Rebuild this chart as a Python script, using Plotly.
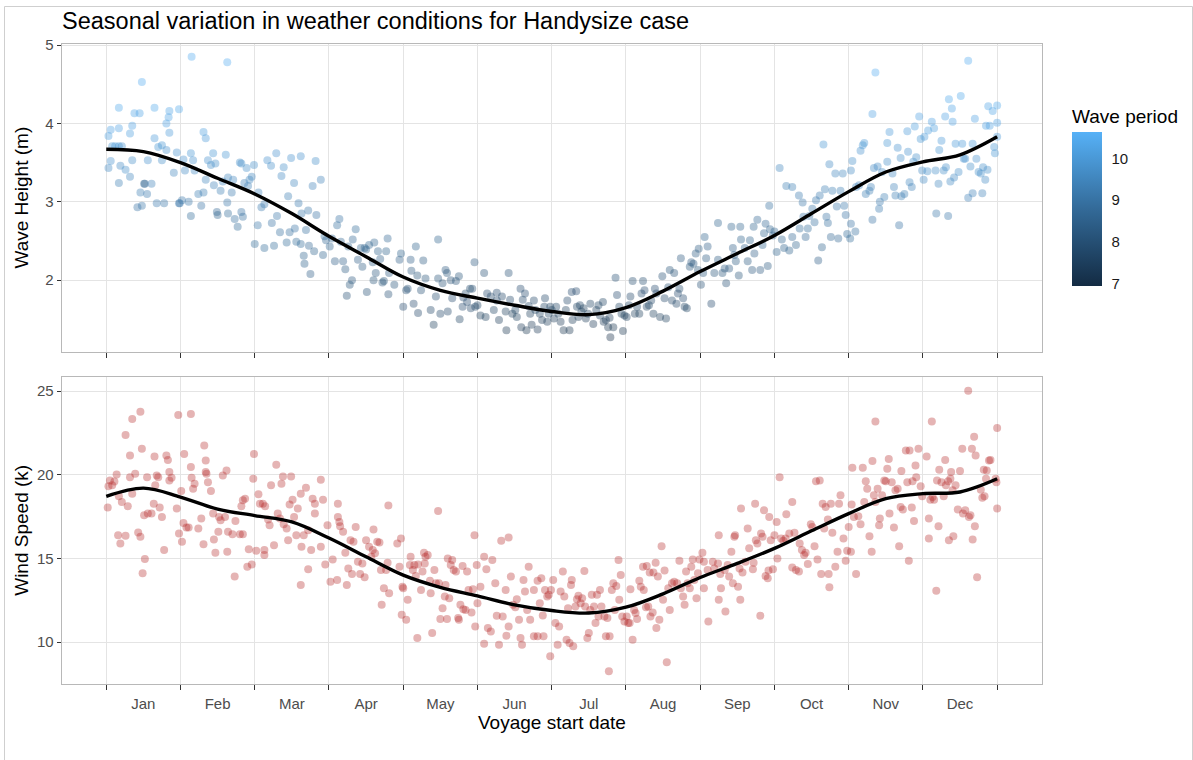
import plotly.graph_objects as go

# ---------------------------------------------------------------------------
# Data: voyage start position expressed in decimal months (0 = start of Jan,
# 12 = end of Dec), with the weather met on each voyage.
# ---------------------------------------------------------------------------
MONTHS = ["Jan", "Feb", "Mar", "Apr", "May", "Jun",
          "Jul", "Aug", "Sep", "Oct", "Nov", "Dec"]

wave_x = [
    # Jan
    0.03, 0.06, 0.17, 0.17, 0.03, 0.06, 0.08, 0.12, 0.17, 0.21, 0.17, 0.19, 0.26, 0.32, 0.32, 0.35, 0.35, 0.38, 0.45, 0.42,
    0.48, 0.48, 0.46, 0.51, 0.52, 0.55, 0.56, 0.61, 0.65, 0.65, 0.68, 0.70, 0.75, 0.75, 0.78, 0.81, 0.81, 0.84, 0.85, 0.85,
    0.91, 0.95, 0.98, 0.98,
    # Feb
    1.15, 1.63, 0.99, 1.02, 1.04, 1.06, 1.11, 1.14, 1.14, 1.17, 1.19, 1.24, 1.28, 1.31, 1.34, 1.31, 1.34, 1.37, 1.41, 1.44,
    1.45, 1.47, 1.49, 1.50, 1.54, 1.57, 1.61, 1.63, 1.64, 1.64, 1.69, 1.71, 1.73, 1.77, 1.80, 1.82, 1.82, 1.84, 1.86, 1.89,
    1.91, 1.93, 1.96, 1.99,
    # Mar
    2.00, 2.04, 2.05, 2.09, 2.13, 2.13, 2.17, 2.22, 2.23, 2.26, 2.29, 2.30, 2.34, 2.36, 2.39, 2.43, 2.45, 2.47, 2.49, 2.53,
    2.54, 2.56, 2.59, 2.62, 2.62, 2.63, 2.66, 2.67, 2.69, 2.72, 2.73, 2.75, 2.78, 2.80, 2.82, 2.83, 2.89, 2.92, 2.94, 2.96,
    # Apr
    3.01, 3.04, 3.08, 3.11, 3.14, 3.16, 3.19, 3.22, 3.24, 3.26, 3.28, 3.31, 3.32, 3.36, 3.39, 3.43, 3.45, 3.48, 3.50, 3.51,
    3.54, 3.59, 3.60, 3.61, 3.63, 3.66, 3.69, 3.72, 3.74, 3.77, 3.79, 3.80, 3.81, 3.88, 3.95, 3.97,
    # May
    4.00, 4.04, 4.06, 4.10, 4.11, 4.14, 4.17, 4.19, 4.20, 4.24, 4.27, 4.30, 4.37, 4.41, 4.44, 4.47, 4.47, 4.50, 4.53, 4.57,
    4.59, 4.60, 4.64, 4.66, 4.71, 4.75, 4.76, 4.80, 4.81, 4.84, 4.86, 4.90, 4.91, 4.93, 4.96, 4.97,
    # Jun
    5.00, 5.04, 5.09, 5.11, 5.13, 5.18, 5.22, 5.26, 5.26, 5.29, 5.33, 5.38, 5.39, 5.42, 5.44, 5.47, 5.51, 5.53, 5.58, 5.59,
    5.61, 5.64, 5.66, 5.69, 5.71, 5.73, 5.76, 5.78, 5.81, 5.84, 5.87, 5.90, 5.91, 5.94, 5.96, 5.98,
    # Jul
    6.00, 6.03, 6.06, 6.09, 6.12, 6.16, 6.19, 6.21, 6.24, 6.27, 6.28, 6.33, 6.34, 6.36, 6.38, 6.40, 6.43, 6.46, 6.49, 6.52,
    6.56, 6.60, 6.63, 6.65, 6.69, 6.70, 6.73, 6.76, 6.78, 6.79, 6.83, 6.86, 6.88, 6.91, 6.94, 6.96, 6.98,
    # Aug
    7.01, 7.04, 7.06, 7.09, 7.12, 7.15, 7.18, 7.21, 7.23, 7.25, 7.28, 7.31, 7.34, 7.37, 7.39, 7.41, 7.46, 7.49, 7.52, 7.54,
    7.57, 7.59, 7.62, 7.65, 7.68, 7.70, 7.72, 7.74, 7.77, 7.79, 7.82, 7.86, 7.88, 7.91, 7.94, 7.97, 7.98,
    # Sep
    8.01, 8.04, 8.06, 8.08, 8.10, 8.15, 8.19, 8.24, 8.24, 8.30, 8.33, 8.35, 8.39, 8.42, 8.44, 8.46, 8.48, 8.52, 8.54, 8.55,
    8.60, 8.64, 8.67, 8.70, 8.72, 8.73, 8.77, 8.81, 8.84, 8.86, 8.88, 8.91, 8.93, 8.94, 8.98, 9.00,
    # Oct
    9.03, 9.07, 9.10, 9.13, 9.16, 9.20, 9.24, 9.24, 9.29, 9.33, 9.34, 9.38, 9.39, 9.42, 9.45, 9.47, 9.51, 9.54, 9.56, 9.59,
    9.61, 9.64, 9.66, 9.68, 9.70, 9.72, 9.74, 9.76, 9.78, 9.82, 9.84, 9.86, 9.89, 9.92, 9.94, 9.96, 9.98,
    # Nov
    10.02, 10.03, 10.03, 10.05, 10.09, 10.10, 10.14, 10.16, 10.19, 10.21, 10.23, 10.28, 10.30, 10.32, 10.32, 10.34, 10.36,
    10.39, 10.41, 10.42, 10.45, 10.48, 10.52, 10.52, 10.55, 10.59, 10.61, 10.63, 10.66, 10.68, 10.70, 10.71, 10.75, 10.79,
    10.80, 10.82, 10.85, 10.87, 10.89, 10.91, 10.95, 10.97, 10.99,
    # Dec
    11.01, 11.02, 11.06, 11.07, 11.12, 11.15, 11.17, 11.18, 11.21, 11.22, 11.25, 11.28, 11.30, 11.31, 11.34, 11.35, 11.37,
    11.39, 11.40, 11.42, 11.44, 11.48, 11.51, 11.53, 11.55, 11.57, 11.61, 11.61, 11.64, 11.67, 11.67, 11.70, 11.72, 11.75,
    11.78, 11.80, 11.81, 11.84, 11.85, 11.87, 11.88, 11.90, 11.94, 11.96, 11.97, 12.00, 12.00, 12.00,
]

wave_height = [
    # Jan
    3.84, 3.92, 4.20, 3.94, 3.43, 3.52, 3.71, 3.71, 3.71, 3.71, 3.24, 3.46, 3.41, 3.32, 3.87, 3.97, 3.53, 4.13, 4.13, 2.93,
    4.53, 2.95, 3.12, 3.23, 3.23, 3.10, 3.53, 3.23, 4.20, 3.81, 2.98, 3.70, 3.72, 3.53, 2.98, 3.66, 4.00, 4.08, 4.16, 3.88,
    3.37, 3.63, 4.18, 2.98,
    # Feb
    4.85, 4.78, 2.98, 3.02, 3.54, 3.40, 3.00, 2.82, 3.62, 3.53, 3.40, 3.10, 2.95, 3.89, 3.81, 3.12, 3.28, 3.53, 3.47, 3.62,
    3.21, 3.49, 2.87, 2.83, 3.14, 3.26, 3.60, 2.99, 2.85, 3.31, 3.12, 3.28, 2.78, 2.68, 3.50, 3.49, 2.87, 2.81, 3.24, 3.43,
    3.20, 3.28, 3.32, 3.47,
    # Mar
    2.46, 2.70, 3.12, 2.93, 2.41, 2.97, 3.53, 3.46, 2.73, 2.44, 3.62, 2.82, 2.61, 3.33, 3.44, 2.48, 3.07, 2.61, 3.56, 3.24,
    2.66, 2.49, 2.98, 3.58, 2.46, 2.85, 2.31, 2.21, 2.64, 2.89, 2.44, 2.08, 3.20, 2.37, 3.52, 2.83, 3.28, 2.32, 2.56, 2.51,
    # Apr
    2.43, 2.53, 2.24, 2.70, 2.78, 2.49, 2.24, 2.14, 1.80, 2.43, 1.94, 2.00, 2.52, 2.65, 2.26, 2.41, 2.17, 2.41, 2.39, 1.85,
    2.45, 2.23, 2.00, 2.48, 2.09, 2.37, 2.27, 1.97, 1.99, 2.37, 2.53, 1.82, 2.09, 1.94, 2.26, 2.34,
    # May
    1.66, 1.87, 1.89, 2.26, 2.12, 1.70, 2.43, 2.06, 1.58, 1.87, 2.25, 2.02, 1.62, 1.43, 1.79, 2.52, 2.02, 1.57, 1.96, 2.13,
    2.09, 1.60, 2.00, 1.77, 1.99, 2.05, 1.50, 1.66, 1.78, 1.83, 1.72, 1.89, 1.64, 1.89, 2.23, 1.66,
    # Jun
    1.68, 1.55, 2.09, 1.53, 1.83, 1.79, 1.62, 1.84, 1.74, 1.49, 1.79, 1.60, 1.36, 2.09, 1.75, 1.57, 1.62, 1.53, 1.89, 1.40,
    1.75, 1.83, 1.36, 1.67, 1.57, 1.43, 1.74, 1.62, 1.37, 1.57, 1.49, 1.66, 1.77, 1.47, 1.57, 1.66,
    # Jul
    1.62, 1.51, 1.66, 1.57, 1.47, 1.36, 1.62, 1.74, 1.36, 1.85, 1.49, 1.86, 1.66, 1.53, 1.68, 1.60, 1.64, 1.51, 1.57, 1.70,
    1.44, 1.62, 1.68, 1.55, 1.72, 1.47, 1.49, 1.40, 1.52, 1.27, 1.40, 2.03, 1.81, 1.66, 1.57, 1.35, 1.55,
    # Aug
    1.53, 1.68, 1.79, 1.99, 1.57, 1.66, 1.57, 1.83, 1.99, 1.87, 1.66, 1.68, 1.74, 1.57, 1.89, 1.83, 1.53, 2.05, 1.77, 1.51,
    1.91, 2.13, 1.74, 2.09, 1.70, 1.83, 1.89, 2.28, 1.77, 1.66, 1.64, 2.17, 2.23, 2.21, 2.34, 2.13, 2.40,
    # Sep
    1.94, 2.09, 2.55, 2.28, 2.43, 1.70, 2.09, 2.73, 2.26, 2.09, 2.15, 1.96, 2.15, 2.68, 2.41, 2.32, 2.24, 2.06, 2.68, 2.52,
    2.41, 2.24, 2.51, 2.13, 2.68, 2.34, 2.77, 2.13, 2.45, 2.60, 2.72, 2.18, 2.95, 2.65, 2.57, 2.62,
    # Oct
    2.36, 3.43, 2.52, 2.41, 3.20, 2.38, 3.19, 2.55, 2.45, 3.08, 2.66, 2.99, 2.81, 2.55, 2.66, 2.82, 2.91, 2.74, 3.02, 2.25,
    3.08, 2.42, 3.73, 3.16, 2.81, 2.73, 3.48, 2.55, 3.14, 3.36, 2.94, 2.53, 3.14, 3.36, 2.95, 2.83, 2.59,
    # Nov
    2.53, 2.72, 3.40, 3.52, 2.62, 3.19, 3.21, 3.65, 3.72, 3.75, 3.10, 3.14, 3.19, 2.77, 4.12, 3.43, 4.65,
    3.45, 2.91, 3.00, 3.38, 3.06, 3.51, 3.75, 3.89, 3.36, 3.19, 3.08, 3.69, 2.70, 3.56, 3.07, 3.10, 3.90,
    3.64, 3.25, 3.19, 3.51, 3.96, 3.57, 4.09, 3.80, 3.40,
    # Dec
    3.28, 3.83, 3.39, 3.91, 4.02, 3.94, 3.40, 2.85, 3.23, 3.66, 3.78, 3.40, 4.09, 3.44, 2.82, 4.31, 3.26,
    4.19, 4.02, 3.31, 3.74, 3.38, 4.35, 3.74, 3.55, 3.55, 4.80, 3.05, 3.45, 3.74, 3.11, 4.06, 3.55, 3.38,
    3.36, 3.11, 3.44, 3.28, 3.97, 3.41, 4.22, 3.97, 4.16, 3.70, 3.62, 4.23, 4.01, 3.83,
]

wave_period = [
    # Jan
    10.1, 10.2, 10.4, 10.2, 9.6, 9.8, 9.9, 10.0, 9.9, 9.8, 9.3, 9.6, 9.7, 9.5, 10.1, 10.2, 9.7, 10.3, 10.3, 9.0,
    10.5, 9.1, 9.3, 8.6, 8.7, 9.2, 9.8, 9.4, 10.4, 10.0, 9.2, 9.9, 9.9, 9.7, 9.1, 9.8, 10.2, 10.3, 10.3, 10.0,
    9.5, 9.8, 10.4, 9.2,
    # Feb
    10.5, 10.5, 9.0, 9.1, 9.8, 9.6, 9.1, 8.8, 9.9, 9.8, 9.6, 9.3, 9.0, 10.1, 10.0, 9.3, 9.5, 9.8, 9.7, 9.9,
    9.4, 9.7, 8.7, 8.6, 9.3, 9.5, 9.9, 9.1, 8.8, 9.5, 9.2, 9.5, 8.9, 8.8, 9.7, 9.7, 9.0, 8.9, 9.4, 9.7,
    9.4, 9.5, 9.5, 9.7,
    # Mar
    8.8, 9.1, 9.4, 9.2, 8.8, 9.2, 9.8, 9.7, 9.0, 8.8, 9.8, 9.1, 8.9, 9.6, 9.7, 8.8, 9.3, 8.9, 9.8, 9.5,
    9.0, 8.8, 9.2, 9.8, 8.8, 9.1, 8.6, 8.5, 8.9, 9.1, 8.7, 8.4, 9.4, 8.6, 9.7, 9.0, 9.4, 8.6, 8.8, 8.7,
    # Apr
    8.6, 8.7, 8.4, 8.9, 9.0, 8.7, 8.4, 8.3, 8.0, 8.6, 8.1, 8.2, 8.7, 8.8, 8.4, 8.6, 8.3, 8.6, 8.5, 8.0,
    8.6, 8.3, 8.1, 8.6, 8.2, 8.5, 8.4, 8.1, 8.1, 8.5, 8.7, 8.0, 8.2, 8.1, 8.4, 8.5,
    # May
    7.8, 8.0, 8.0, 8.4, 8.2, 7.8, 8.5, 8.1, 7.7, 8.0, 8.3, 8.1, 7.7, 7.5, 7.9, 8.6, 8.1, 7.7, 8.0, 8.2,
    8.1, 7.7, 8.0, 7.8, 8.0, 8.1, 7.6, 7.8, 7.8, 7.9, 7.8, 7.9, 7.7, 7.9, 8.2, 7.7,
    # Jun
    7.6, 7.5, 8.0, 7.5, 7.8, 7.7, 7.6, 7.8, 7.7, 7.4, 7.7, 7.5, 7.2, 8.0, 7.7, 7.5, 7.6, 7.5, 7.8, 7.3,
    7.7, 7.8, 7.2, 7.6, 7.5, 7.3, 7.7, 7.6, 7.3, 7.5, 7.4, 7.6, 7.7, 7.4, 7.5, 7.6,
    # Jul
    7.5, 7.4, 7.6, 7.5, 7.3, 7.2, 7.5, 7.7, 7.2, 7.8, 7.4, 7.8, 7.6, 7.4, 7.6, 7.5, 7.5, 7.4, 7.5, 7.6,
    7.3, 7.5, 7.6, 7.4, 7.6, 7.3, 7.4, 7.2, 7.4, 7.0, 7.2, 8.0, 7.8, 7.6, 7.5, 7.2, 7.4,
    # Aug
    7.5, 7.6, 7.7, 7.9, 7.5, 7.6, 7.5, 7.8, 7.9, 7.8, 7.6, 7.6, 7.7, 7.5, 7.8, 7.8, 7.5, 8.0, 7.7, 7.5,
    7.9, 8.1, 7.7, 8.0, 7.7, 7.8, 7.9, 8.2, 7.8, 7.6, 7.6, 8.1, 8.2, 8.2, 8.3, 8.1, 8.3,
    # Sep
    8.0, 8.1, 8.5, 8.3, 8.4, 7.8, 8.1, 8.6, 8.3, 8.1, 8.2, 8.0, 8.2, 8.6, 8.4, 8.3, 8.3, 8.1, 8.6, 8.5,
    8.4, 8.3, 8.5, 8.2, 8.6, 8.4, 8.7, 8.2, 8.5, 8.6, 8.7, 8.3, 8.9, 8.6, 8.6, 8.6,
    # Oct
    8.5, 9.5, 8.6, 8.5, 9.3, 8.5, 9.3, 8.7, 8.6, 9.2, 8.8, 9.1, 9.0, 8.7, 8.8, 9.0, 9.1, 8.9, 9.2, 8.4,
    9.2, 8.6, 9.9, 9.3, 9.0, 8.9, 9.6, 8.7, 9.3, 9.5, 9.1, 8.7, 9.3, 9.5, 9.1, 9.0, 8.8,
    # Nov
    8.8, 9.0, 9.6, 9.7, 8.9, 9.4, 9.4, 9.8, 9.9, 9.9, 9.3, 9.3, 9.4, 9.0, 10.2, 9.6, 10.5,
    9.6, 9.2, 9.2, 9.6, 9.3, 9.7, 9.9, 10.0, 9.6, 9.4, 9.3, 9.8, 9.0, 9.7, 9.3, 9.3, 10.0,
    9.8, 9.5, 9.4, 9.7, 10.1, 9.7, 10.2, 9.9, 9.6,
    # Dec
    9.6, 10.0, 9.7, 10.1, 10.2, 10.1, 9.7, 9.1, 9.5, 9.9, 10.0, 9.7, 10.2, 9.7, 9.1, 10.4, 9.6,
    10.3, 10.2, 9.6, 10.0, 9.7, 10.4, 10.0, 9.8, 9.8, 10.5, 9.4, 9.7, 10.0, 9.4, 10.2, 9.8, 9.7,
    9.7, 9.4, 9.7, 9.6, 10.2, 9.7, 10.3, 10.2, 10.3, 9.9, 9.9, 10.4, 10.2, 10.0,
]

wind_x = [
    # Jan
    0.02, 0.03, 0.05, 0.08, 0.11, 0.14, 0.16, 0.17, 0.19, 0.21, 0.26, 0.26, 0.29, 0.32, 0.32, 0.35, 0.35, 0.39, 0.43, 0.46,
    0.46, 0.48, 0.49, 0.51, 0.52, 0.55, 0.56, 0.61, 0.64, 0.65, 0.66, 0.68, 0.70, 0.72, 0.75, 0.78, 0.81, 0.83, 0.85, 0.85,
    0.88, 0.95, 0.97, 0.98, 1.01,
    # Feb
    1.02, 1.04, 1.05, 1.08, 1.11, 1.14, 1.14, 1.15, 1.17, 1.19, 1.24, 1.28, 1.31, 1.32, 1.34, 1.34, 1.35, 1.37, 1.41, 1.44,
    1.45, 1.47, 1.51, 1.52, 1.54, 1.57, 1.60, 1.62, 1.63, 1.64, 1.70, 1.73, 1.74, 1.80, 1.82, 1.84, 1.84, 1.87, 1.90, 1.92,
    1.96, 1.98, 1.99,
    # Mar
    2.02, 2.05, 2.07, 2.11, 2.13, 2.13, 2.14, 2.18, 2.20, 2.22, 2.26, 2.29, 2.31, 2.34, 2.36, 2.38, 2.39, 2.43, 2.45, 2.47,
    2.49, 2.51, 2.53, 2.56, 2.58, 2.62, 2.62, 2.63, 2.66, 2.69, 2.72, 2.72, 2.76, 2.78, 2.81, 2.81, 2.89, 2.89, 2.92, 2.95,
    2.98,
    # Apr
    3.02, 3.05, 3.11, 3.12, 3.12, 3.14, 3.15, 3.19, 3.22, 3.24, 3.26, 3.29, 3.31, 3.33, 3.36, 3.39, 3.42, 3.45, 3.48, 3.50,
    3.54, 3.57, 3.59, 3.60, 3.62, 3.65, 3.68, 3.70, 3.71, 3.74, 3.77, 3.79, 3.80, 3.81, 3.92, 3.95, 3.97, 3.98, 3.99,
    # May
    4.00, 4.04, 4.06, 4.09, 4.10, 4.13, 4.15, 4.17, 4.19, 4.20, 4.24, 4.26, 4.28, 4.29, 4.30, 4.33, 4.36, 4.37, 4.39, 4.42,
    4.44, 4.47, 4.48, 4.50, 4.53, 4.56, 4.57, 4.59, 4.60, 4.62, 4.64, 4.66, 4.68, 4.71, 4.74, 4.75, 4.77, 4.80, 4.81, 4.84,
    4.86, 4.88, 4.92, 4.94, 4.96, 4.97, 4.99,
    # Jun
    5.00, 5.04, 5.09, 5.09, 5.12, 5.14, 5.18, 5.20, 5.24, 5.26, 5.29, 5.32, 5.34, 5.38, 5.39, 5.42, 5.42, 5.45, 5.48, 5.51,
    5.53, 5.56, 5.58, 5.60, 5.62, 5.64, 5.67, 5.69, 5.71, 5.76, 5.76, 5.81, 5.81, 5.84, 5.86, 5.88, 5.89, 5.91, 5.94, 5.96,
    5.98, 5.99,
    # Jul
    6.02, 6.05, 6.08, 6.10, 6.12, 6.15, 6.17, 6.20, 6.22, 6.24, 6.26, 6.27, 6.29, 6.32, 6.34, 6.36, 6.39, 6.41, 6.44, 6.45,
    6.48, 6.50, 6.52, 6.54, 6.57, 6.59, 6.61, 6.63, 6.65, 6.67, 6.71, 6.73, 6.75, 6.77, 6.78, 6.81, 6.83, 6.85, 6.87, 6.90,
    6.91, 6.93, 6.95, 6.98,
    # Aug
    7.01, 7.03, 7.05, 7.06, 7.09, 7.11, 7.13, 7.15, 7.18, 7.20, 7.23, 7.24, 7.27, 7.28, 7.30, 7.32, 7.33, 7.36, 7.37, 7.40,
    7.41, 7.43, 7.45, 7.48, 7.50, 7.52, 7.55, 7.57, 7.59, 7.62, 7.65, 7.69, 7.72, 7.74, 7.77, 7.79, 7.81, 7.83, 7.86, 7.88,
    7.90, 7.92, 7.95, 7.97, 7.99,
    # Sep
    8.03, 8.05, 8.05, 8.10, 8.11, 8.17, 8.19, 8.24, 8.25, 8.25, 8.27, 8.28, 8.33, 8.34, 8.37, 8.39, 8.42, 8.44, 8.46, 8.47,
    8.51, 8.53, 8.54, 8.55, 8.57, 8.61, 8.64, 8.66, 8.71, 8.72, 8.74, 8.75, 8.77, 8.81, 8.82, 8.84, 8.86, 8.88, 8.91, 8.92,
    8.93, 8.95, 8.98, 9.00,
    # Oct
    9.03, 9.04, 9.07, 9.09, 9.12, 9.15, 9.16, 9.20, 9.24, 9.24, 9.27, 9.29, 9.33, 9.34, 9.37, 9.40, 9.42, 9.45, 9.49, 9.51,
    9.54, 9.56, 9.58, 9.61, 9.63, 9.65, 9.67, 9.69, 9.72, 9.73, 9.74, 9.76, 9.78, 9.82, 9.85, 9.87, 9.89, 9.93, 9.96, 9.98,
    10.00,
    # Nov
    10.03, 10.04, 10.05, 10.07, 10.10, 10.13, 10.16, 10.19, 10.21, 10.23, 10.25, 10.28, 10.31, 10.32, 10.34, 10.36,
    10.36, 10.39, 10.41, 10.42, 10.45, 10.48, 10.50, 10.52, 10.54, 10.55, 10.58, 10.61, 10.63, 10.66, 10.68, 10.70,
    10.71, 10.73, 10.77, 10.79, 10.81, 10.82, 10.85, 10.86, 10.88, 10.90, 10.91, 10.94, 10.97, 10.99,
    # Dec
    11.05, 11.08, 11.08, 11.10, 11.12, 11.13, 11.15, 11.18, 11.19, 11.21, 11.22, 11.25, 11.28, 11.30, 11.31, 11.34,
    11.35, 11.37, 11.38, 11.40, 11.41, 11.44, 11.47, 11.50, 11.53, 11.54, 11.57, 11.61, 11.62, 11.64, 11.66, 11.67,
    11.69, 11.70, 11.71, 11.73, 11.78, 11.80, 11.82, 11.83, 11.85, 11.86, 11.89, 11.91, 11.98, 12.00, 12.00, 11.99,
]

wind_speed = [
    # Jan
    18.04, 19.31, 19.66, 19.37, 19.60, 20.02, 16.39, 18.71, 15.89, 18.37, 22.38, 16.35, 18.12, 21.15, 19.86, 18.87,
    23.33, 20.06, 16.55, 23.77, 16.29, 21.55, 14.11, 17.58, 14.96, 19.86, 17.68, 17.68, 18.27, 21.09, 19.37, 19.96,
    19.86, 18.04, 17.48, 15.50, 21.15, 20.89, 20.16, 19.66, 19.82, 17.98, 23.57, 16.49, 19.03,
    # Feb
    15.99, 17.12, 21.25, 16.85, 16.85, 23.63, 20.46, 19.82, 19.17, 19.46, 16.79, 17.38, 15.85, 21.75, 20.85, 20.16,
    20.06, 19.56, 19.03, 17.68, 16.13, 15.34, 16.59, 17.48, 17.28, 19.96, 17.48, 20.26, 15.40, 16.59, 16.45, 13.91,
    17.24, 16.45, 18.12, 16.45, 18.47, 18.57, 14.50, 15.54, 14.64, 19.76, 21.25,
    # Mar
    15.46, 18.83, 18.27, 18.27, 15.20, 15.50, 18.12, 17.32, 16.98, 19.37, 15.79, 20.60, 17.68, 17.38, 19.46, 19.90,
    17.04, 16.79, 16.09, 18.23, 19.90, 18.51, 17.48, 16.39, 17.98, 18.87, 13.41, 15.69, 16.39, 19.23, 16.69, 14.35,
    15.50, 18.57, 17.68, 18.27, 19.70, 15.69, 18.51, 14.64, 16.98,
    # Apr
    13.61, 14.94, 13.71, 18.27, 17.48, 17.18, 16.92, 16.59, 15.34, 13.41, 14.40, 16.09, 14.07, 15.99, 16.88, 14.80,
    14.07, 14.70, 13.87, 16.09, 15.69, 15.10, 15.50, 16.73, 15.30, 15.99, 15.95, 14.31, 12.22, 13.21, 14.31, 14.74,
    18.17, 12.92, 15.89, 14.50, 16.19, 11.63, 13.31,
    # May
    13.21, 11.33, 12.52, 14.60, 15.10, 14.31, 14.60, 13.95, 10.24, 14.64, 13.11, 14.21, 15.34, 14.70, 15.10, 15.20,
    13.67, 12.92, 10.54, 14.31, 13.51, 17.84, 13.51, 11.37, 12.02, 12.72, 13.41, 11.37, 15.00, 12.62, 14.60, 14.90,
    14.31, 14.21, 11.43, 11.33, 12.22, 14.54, 11.96, 11.92, 14.21, 13.11, 11.77, 13.15, 16.39, 10.93, 14.60,
    # Jun
    12.32, 13.31, 15.10, 9.90, 14.35, 10.83, 10.63, 14.90, 13.51, 11.57, 9.84, 16.05, 11.53, 13.11, 10.38, 16.25,
    10.93, 13.91, 12.22, 12.08, 12.56, 11.33, 10.24, 9.84, 13.71, 13.02, 11.92, 14.50, 11.33, 10.34, 13.11, 13.67,
    10.34, 12.32, 13.81, 11.59, 10.34, 13.11, 12.72, 12.82, 9.15, 13.11,
    # Jul
    13.71, 11.13, 9.84, 10.93, 13.02, 14.21, 12.72, 10.14, 12.02, 9.94, 13.41, 13.71, 9.74, 12.12, 12.56, 12.76,
    12.32, 12.62, 14.25, 12.12, 10.24, 10.54, 11.92, 12.82, 12.12, 11.13, 12.82, 11.53, 13.11, 12.12, 11.53, 10.34,
    11.43, 8.25, 10.34, 13.11, 13.51, 11.92, 13.35, 14.90, 12.52, 14.01, 11.53, 11.23,
    # Aug
    11.53, 11.13, 11.13, 13.15, 10.14, 11.92, 11.73, 11.37, 13.67, 13.31, 14.50, 13.11, 12.08, 14.54, 12.12, 14.15,
    11.53, 11.77, 14.15, 14.74, 10.83, 13.91, 11.33, 15.73, 12.52, 14.27, 8.79, 13.21, 11.92, 13.51, 13.61, 13.51,
    14.86, 13.21, 12.72, 12.22, 14.21, 13.51, 13.21, 14.50, 14.94, 13.71, 12.62, 14.11, 14.94,
    # Sep
    15.34, 14.80, 13.21, 14.31, 11.23, 14.80, 14.40, 14.70, 16.39, 12.52, 14.07, 13.21, 14.31, 11.83, 14.60, 13.91,
    15.40, 13.51, 16.29, 16.39, 13.31, 14.40, 12.52, 17.98, 14.15, 14.80, 16.79, 15.60, 14.35, 14.74, 18.27, 16.09,
    15.89, 11.57, 16.49, 16.29, 17.88, 13.95, 13.81, 14.27, 17.48, 16.09, 14.35, 16.39,
    # Oct
    17.18, 15.00, 19.86, 16.19, 16.05, 16.19, 17.64, 16.49, 18.37, 14.46, 16.53, 14.31, 14.21, 15.89, 15.50, 15.20,
    15.34, 14.66, 17.04, 16.88, 15.73, 19.62, 14.94, 19.66, 14.07, 18.27, 16.79, 18.08, 17.32, 14.07, 13.27, 18.27,
    16.53, 14.50, 15.40, 18.27, 18.77, 16.19, 14.86, 15.46, 16.88,
    # Nov
    15.40, 18.23, 20.42, 17.48, 14.07, 17.52, 17.04, 20.42, 18.37, 19.62, 19.17, 16.33, 15.40, 20.82, 18.77, 23.19,
    18.37, 19.17, 16.98, 17.38, 18.77, 19.66, 19.62, 20.36, 20.95, 17.68, 19.56, 16.85, 19.07, 19.17, 15.73, 18.08,
    20.22, 17.92, 21.45, 19.56, 14.86, 21.45, 18.04, 19.62, 17.24, 20.56, 19.86, 21.55, 19.31, 18.71,
    # Dec
    21.09, 16.19, 17.38, 18.51, 23.19, 18.67, 18.51, 13.07, 19.66, 16.92, 20.30, 19.56, 18.71, 20.89, 19.37, 19.62,
    16.09, 19.76, 20.16, 19.07, 16.33, 19.37, 17.92, 20.22, 21.55, 17.68, 17.88, 25.02, 17.48, 17.58, 21.55, 16.13,
    22.28, 16.92, 21.15, 13.87, 19.11, 18.63, 20.30, 18.71, 19.76, 20.26, 20.85, 20.89, 19.76, 22.80, 17.98, 19.56,
]

# Seasonal trend curves (smoothed), sampled every half month
smooth_x = [0.0, 0.5, 1.0, 1.5, 2.0, 2.5, 3.0, 3.5, 4.0, 4.5, 5.0, 5.5, 6.0,
            6.5, 7.0, 7.5, 8.0, 8.5, 9.0, 9.5, 10.0, 10.5, 11.0, 11.5, 12.0]
wave_smooth = [3.67, 3.64, 3.50, 3.30, 3.10, 2.85, 2.56, 2.30, 2.04, 1.87, 1.77, 1.68, 1.60,
               1.56, 1.65, 1.86, 2.11, 2.34, 2.57, 2.85, 3.13, 3.38, 3.51, 3.60, 3.83]
wind_smooth = [18.71, 19.20, 18.67, 17.95, 17.56, 17.18, 16.22, 15.10, 14.00, 13.27, 12.76, 12.22, 11.88,
               11.73, 12.08, 12.88, 13.86, 14.70, 15.60, 16.65, 17.68, 18.57, 18.87, 18.97, 19.76]

for name, xs, ys in (("wave", wave_x, wave_height), ("wind", wind_x, wind_speed)):
    if len(xs) != len(ys):
        raise ValueError(f"{name}: {len(xs)} x values vs {len(ys)} y values")
if len(wave_period) != len(wave_x):
    raise ValueError(f"wave period: {len(wave_period)} vs {len(wave_x)}")

# ---------------------------------------------------------------------------
# Figure geometry (pixels -> paper fractions, margins are zero)
# ---------------------------------------------------------------------------
W, H = 1193, 760


def fx(px):
    return px / W


def fy(py):
    return 1 - py / H


FONT = "Liberation Sans, Arial, Helvetica, sans-serif"
GRID = "#E4E4E4"
BORDER = "#B8B8B8"
TICK = "#333333"
TICKFONT = dict(family=FONT, size=15, color="#4D4D4D")

x_domain = [fx(61.7), fx(1041.7)]
top_domain = [fy(351.7), fy(43.5)]
bottom_domain = [fy(684.3), fy(377.3)]

fig = go.Figure()

fig.add_trace(go.Scatter(
    x=wave_x, y=wave_height, mode="markers", xaxis="x", yaxis="y",
    marker=dict(
        size=8, color=wave_period, opacity=0.38,
        colorscale=[[0.0, "#132B43"], [0.5, "#336A98"], [1.0, "#56B1F7"]],
        cmin=6.94, cmax=10.63, line=dict(width=0),
        showscale=True,
        colorbar=dict(
            x=fx(1072), xanchor="left", xref="paper", xpad=0,
            y=fy(286), yanchor="bottom", yref="paper", ypad=0,
            len=180, lenmode="pixels", thickness=30, thicknessmode="pixels",
            outlinewidth=0, tickmode="array", tickvals=[7, 8, 9, 10],
            ticks="outside", ticklen=7, tickcolor="white", tickwidth=1,
            tickfont=dict(family=FONT, size=15, color="#1A1A1A"),
            title=dict(text="Wave period", side="top",
                       font=dict(family=FONT, size=19, color="#000000")),
        ),
    ),
    showlegend=False, hoverinfo="skip",
))
fig.add_trace(go.Scatter(
    x=smooth_x, y=wave_smooth, mode="lines", xaxis="x", yaxis="y",
    line=dict(color="#000000", width=3.4, shape="spline", smoothing=1.0),
    showlegend=False, hoverinfo="skip",
))
fig.add_trace(go.Scatter(
    x=wind_x, y=wind_speed, mode="markers", xaxis="x2", yaxis="y2",
    marker=dict(size=8, color="#B22222", opacity=0.34, line=dict(width=0)),
    showlegend=False, hoverinfo="skip",
))
fig.add_trace(go.Scatter(
    x=smooth_x, y=wind_smooth, mode="lines", xaxis="x2", yaxis="y2",
    line=dict(color="#000000", width=3.4, shape="spline", smoothing=1.0),
    showlegend=False, hoverinfo="skip",
))

month_centres = [i + 0.5 for i in range(len(MONTHS))]


def x_axis(anchor, labels):
    return dict(
        domain=x_domain, anchor=anchor, range=[-0.6, 12.6],
        tickmode="array", tickvals=month_centres, ticktext=MONTHS,
        showticklabels=labels, ticks="", showgrid=False, zeroline=False,
        tickfont=TICKFONT, ticklabelstandoff=6,
        minor=dict(tick0=0, dtick=1, ticks="outside", ticklen=5, tickwidth=1,
                   tickcolor=TICK, showgrid=True, gridcolor=GRID, gridwidth=1),
        showline=True, mirror=True, linecolor=BORDER, linewidth=1.2,
        automargin=False, fixedrange=True,
    )


def y_axis(anchor, domain, rng, vals):
    return dict(
        domain=domain, anchor=anchor, range=rng,
        tickmode="array", tickvals=vals, ticks="outside", ticklen=4,
        tickwidth=1, tickcolor=TICK, tickfont=TICKFONT,
        showgrid=True, gridcolor=GRID, gridwidth=1, zeroline=False,
        showline=True, mirror=True, linecolor=BORDER, linewidth=1.2,
        automargin=False, fixedrange=True,
    )


fig.update_layout(
    width=W, height=H, autosize=False,
    margin=dict(l=0, r=0, t=0, b=0, pad=0),
    paper_bgcolor="white", plot_bgcolor="white",
    font=dict(family=FONT, color="#000000"),
    title=dict(text="Seasonal variation in weather conditions for Handysize case",
               x=fx(62), xanchor="left", xref="paper",
               y=fy(21), yanchor="middle", yref="container",
               font=dict(family=FONT, size=23.5, color="#000000")),
    xaxis=x_axis("y", False),
    yaxis=y_axis("x", top_domain, [1.087, 5.02], [2, 3, 4, 5]),
    xaxis2=x_axis("y2", True),
    yaxis2=y_axis("x2", bottom_domain, [7.47, 25.83], [10, 15, 20, 25]),
    annotations=[
        dict(text="Wave Height (m)", x=fx(22), y=fy(197.6), xref="paper", yref="paper",
             textangle=-90, showarrow=False, xanchor="center", yanchor="middle",
             font=dict(family=FONT, size=19, color="#000000")),
        dict(text="Wind Speed (k)", x=fx(22), y=fy(530.8), xref="paper", yref="paper",
             textangle=-90, showarrow=False, xanchor="center", yanchor="middle",
             font=dict(family=FONT, size=19, color="#000000")),
        dict(text="Voyage start date", x=fx(551.7), y=fy(722), xref="paper", yref="paper",
             showarrow=False, xanchor="center", yanchor="middle",
             font=dict(family=FONT, size=19, color="#000000")),
    ],
    shapes=[
        dict(type="rect", xref="paper", yref="paper",
             x0=fx(4.5), x1=fx(1192.5), y0=fy(775), y1=fy(6.5),
             line=dict(color="#CFCFCF", width=1), fillcolor="rgba(0,0,0,0)", layer="above"),
    ],
)

fig.write_html("out.html")
